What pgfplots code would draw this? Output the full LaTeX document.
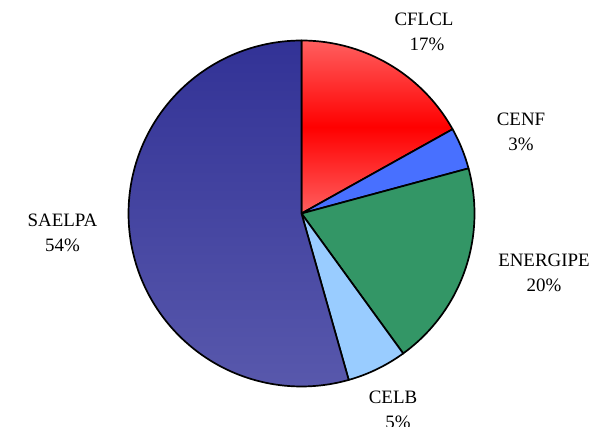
\documentclass[border=0pt]{standalone}
\usepackage{pgfplots}
\pgfplotsset{compat=1.18}
\usepackage{fontspec}
\setmainfont{Liberation Serif}
\definecolor{cfl}{RGB}{255,0,0}
\definecolor{cfllight}{RGB}{255,95,95}
\definecolor{cenf}{RGB}{72,112,255}
\definecolor{energ}{RGB}{51,150,102}
\definecolor{celb}{RGB}{153,204,255}
\definecolor{saeltop}{RGB}{50,50,150}
\definecolor{saelbot}{RGB}{88,88,172}
\def\cx{301.5}
\def\cy{213.5}
\def\rr{173}
% #1 = cumulative % at start, #2 = cumulative % at end, #3 = style
\newcommand\slice[3]{%
  \addplot[draw=black,line width=1.7bp,line join=round,#3,
    domain={90-3.6*(#2)}:{90-3.6*(#1)},samples=120,variable=\t]
    ({\cx+\rr*cos(\t)},{427-\cy+\rr*sin(\t)}) -- (axis cs:\cx,{427-\cy}) -- cycle;}
\newcommand\lab[3]{\node[anchor=base,font=\fontsize{19}{23}\selectfont,inner sep=0pt] at (axis cs:#1,{427-#2}) {#3};}
\begin{document}
\begin{tikzpicture}
\begin{axis}[width=597bp,height=427bp,scale only axis,
  xmin=0,xmax=597,ymin=0,ymax=427,hide axis,clip=false]
% shares (%): CFLCL 16.9, CENF 3.9, ENERGIPE 19.2, CELB 5.6, SAELPA 54.4
\slice{0}{16.9}{top color=cfllight,bottom color=cfllight,middle color=cfl}
\slice{16.9}{20.8}{fill=cenf}
\slice{20.8}{40.0}{fill=energ}
\slice{40.0}{45.6}{fill=celb}
\slice{45.6}{100}{top color=saeltop,bottom color=saelbot}
\lab{424}{26}{CFLCL}
\lab{427}{50.7}{17\%}
\lab{521}{126}{CENF}
\lab{521}{150.7}{3\%}
\lab{544}{266.7}{ENERGIPE}
\lab{544}{291.7}{20\%}
\lab{393}{403}{CELB}
\lab{398}{428}{5\%}
\lab{62.5}{226.7}{SAELPA}
\lab{62.5}{251.7}{54\%}
\end{axis}
\pgfresetboundingbox
\path (current axis.south west) rectangle (current axis.north east);
\end{tikzpicture}
\end{document}
